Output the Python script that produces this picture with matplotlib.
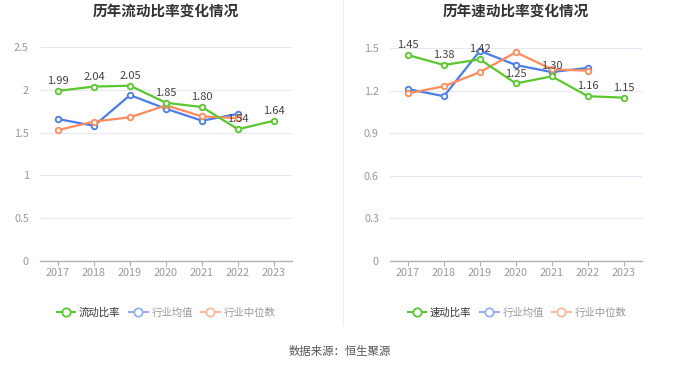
import matplotlib.pyplot as plt
from matplotlib.lines import Line2D

plt.rcParams['font.family'] = ['Noto Sans CJK SC', 'DejaVu Sans']

years = ['2017', '2018', '2019', '2020', '2021', '2022', '2023']

# 流动比率
current_ratio = [1.99, 2.04, 2.05, 1.85, 1.80, 1.54, 1.64]
current_mean = [1.66, 1.58, 1.94, 1.78, 1.64, 1.72]
current_median = [1.53, 1.63, 1.68, 1.82, 1.69, 1.67]

# 速动比率
quick_ratio = [1.45, 1.38, 1.42, 1.25, 1.30, 1.16, 1.15]
quick_mean = [1.21, 1.16, 1.48, 1.38, 1.33, 1.36]
quick_median = [1.18, 1.23, 1.33, 1.47, 1.35, 1.34]

GREEN = '#5ac72f'
BLUE = '#4a7de8'
ORANGE = '#ff8a5e'
W, H = 680, 367


def px_axes(fig, x0, x1, ytop, ybot):
    return fig.add_axes([x0 / W, (H - ybot) / H, (x1 - x0) / W, (ybot - ytop) / H])


def draw_panel(ax, main, mean, median, ymax, yticks, ytlabels):
    x = list(range(len(years)))
    for vals, c, z in [(mean, BLUE, 3), (median, ORANGE, 3), (main, GREEN, 4)]:
        ax.plot(x[:len(vals)], vals, color=c, lw=1.6, marker='o', ms=4,
                mfc='white', mec=c, mew=1.3, zorder=z)
    for xi, v in zip(x, main):
        ax.annotate(f'{v:.2f}', (xi, v), xytext=(0, 3.5), textcoords='offset points',
                    ha='center', va='bottom', fontsize=8, color='#444444', zorder=5)
    ax.set_xlim(-0.5, len(years) - 0.5)
    ax.set_ylim(0, ymax)
    ax.set_xticks(x)
    ax.set_xticklabels(years)
    ax.set_yticks(yticks)
    ax.set_yticklabels(ytlabels)
    ax.tick_params(axis='x', colors='#999999', labelsize=7.8, length=3.5, color='#b0b0b0', pad=2)
    ax.tick_params(axis='y', colors='#999999', labelsize=7.8, length=0, pad=8)
    ax.grid(axis='y', color='#e6e9f2', lw=0.8)
    ax.set_axisbelow(True)
    for s in ['top', 'right', 'left']:
        ax.spines[s].set_visible(False)
    ax.spines['bottom'].set_color('#b0b0b0')
    ax.spines['bottom'].set_linewidth(1.0)


def draw_legend(fig, cx, names):
    colors = [GREEN, '#93b1f2', '#ffb8a0']
    tcolors = ['#333333', '#999999', '#999999']
    handles = [Line2D([], [], color=c, lw=1.5, marker='o', ms=6, mfc='white', mec=c, mew=1.3)
               for c in colors]
    leg = fig.legend(handles, names, loc='center', bbox_to_anchor=(cx / W, (H - 313) / H),
                     ncol=3, frameon=False, fontsize=7.5, handlelength=1.8,
                     handletextpad=0.35, columnspacing=0.8)
    for t, c in zip(leg.get_texts(), tcolors):
        t.set_color(c)


fig = plt.figure(figsize=(W / 100, H / 100), dpi=100)

ax1 = px_axes(fig, 40, 292, 47.3, 260.7)
draw_panel(ax1, current_ratio, current_mean, current_median, 2.5,
           [0, 0.5, 1, 1.5, 2, 2.5], ['0', '0.5', '1', '1.5', '2', '2.5'])
ax2 = px_axes(fig, 390, 641.7, 48, 260.7)
draw_panel(ax2, quick_ratio, quick_mean, quick_median, 1.5,
           [0, 0.3, 0.6, 0.9, 1.2, 1.5], ['0', '0.3', '0.6', '0.9', '1.2', '1.5'])

fig.text(166 / W, (H - 11) / H, '历年流动比率变化情况', ha='center', va='center',
         fontsize=10.5, fontweight='bold', color='#333333')
fig.text(516 / W, (H - 11) / H, '历年速动比率变化情况', ha='center', va='center',
         fontsize=10.5, fontweight='bold', color='#333333')

draw_legend(fig, 166, ['流动比率', '行业均值', '行业中位数'])
draw_legend(fig, 517, ['速动比率', '行业均值', '行业中位数'])

fig.add_artist(Line2D([343 / W, 343 / W], [(H - 325) / H, 1.0], color='#eeeeee', lw=0.8))

fig.text(340 / W, (H - 351) / H, '数据来源：恒生聚源', ha='center', va='center',
         fontsize=8.2, color='#555555')

fig.savefig('out.png', dpi=100, facecolor='white')
